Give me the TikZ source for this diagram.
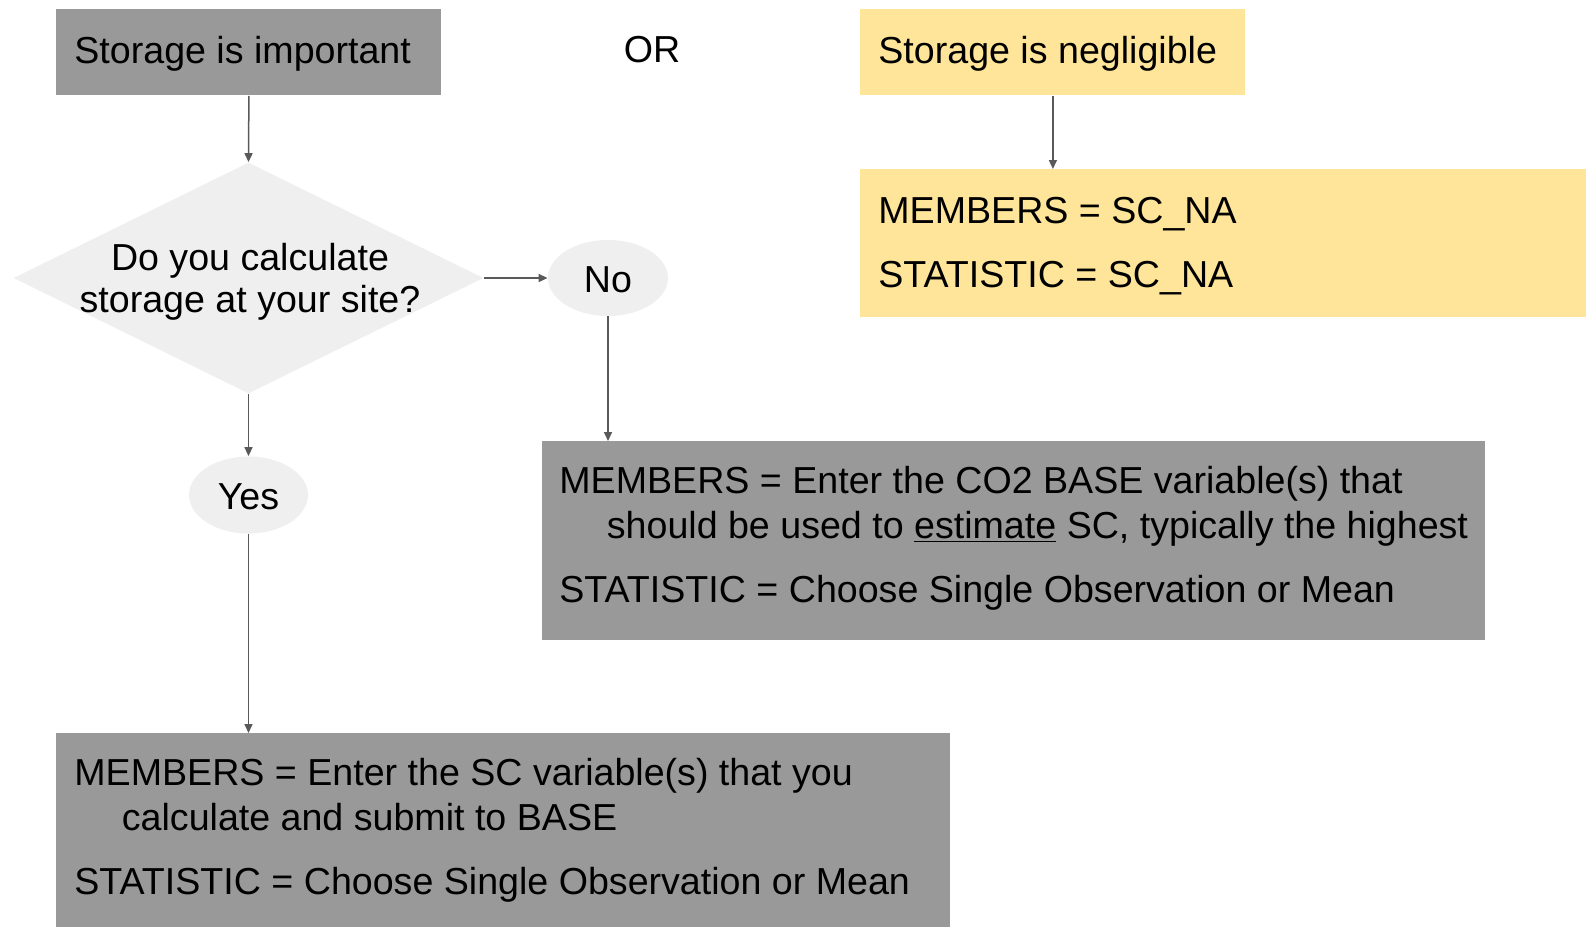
\documentclass[tikz,border=0pt]{standalone}
\usepackage{fontspec}
\setmainfont{Liberation Sans}
\usetikzlibrary{shapes.geometric,arrows.meta}
\definecolor{boxgray}{HTML}{999999}
\definecolor{boxyellow}{HTML}{FFE599}
\definecolor{lightfill}{HTML}{EFEFEF}
\definecolor{arrowgray}{HTML}{595959}
\begin{document}
\begin{tikzpicture}[x=0.5pt,y=-0.5pt,
  font=\fontsize{18.8pt}{21pt}\selectfont,
  graybox/.style={rectangle,fill=boxgray,draw=none,inner sep=0pt,anchor=north west},
  yellowbox/.style={rectangle,fill=boxyellow,draw=none,inner sep=0pt,anchor=north west},
  answer/.style={ellipse,fill=lightfill,draw=none,inner sep=0pt},
  txt/.style={inner sep=0pt,anchor=base west},
  ctxt/.style={inner sep=0pt,anchor=base},
  conn/.style={draw=arrowgray,line width=0.75pt,-{Triangle[length=4.5pt,width=4pt]}}]
\useasboundingbox (0,0) rectangle (1586,927);

% boxes
\node[graybox,minimum width=192.5pt,minimum height=43pt] (imp) at (56,9) {};
\node[yellowbox,minimum width=192.5pt,minimum height=43pt] (neg) at (860,9) {};
\node[yellowbox,minimum width=363pt,minimum height=74pt] (na) at (860,169) {};
\node[graybox,minimum width=471.5pt,minimum height=99.5pt] (nobox) at (542,441) {};
\node[graybox,minimum width=447pt,minimum height=97pt] (yesbox) at (56,733) {};
\node[diamond,fill=lightfill,draw=none,inner sep=0pt,minimum width=235pt,minimum height=115.5pt] (q) at (248.5,278) {};
\node[answer,minimum width=60pt,minimum height=38pt] (no) at (608,278) {};
\node[answer,minimum width=59.5pt,minimum height=38.5pt] (yes) at (248.5,495) {};

% texts
\node[txt] (impt) at (74,63) {Storage is important};
\node[ctxt] (or) at (652,62) {OR};
\node[txt] (negt) at (878,63) {Storage is negligible};
\node[txt] (nat1) at (878,223) {MEMBERS = SC\_NA};
\node[txt] (nat2) at (878,287) {STATISTIC = SC\_NA};
\node[ctxt] (qt1) at (250,270) {Do you calculate};
\node[ctxt] (qt2) at (250,312) {storage at your site?};
\node[ctxt] (not) at (608,292) {No};
\node[ctxt] (yest) at (248.5,509) {Yes};
\node[txt] (nb1) at (559,493) {MEMBERS = Enter the CO2 BASE variable(s) that};
\node[txt] (nb2) at (606.5,538) {should be used to \underline{estimate} SC, typically the highest};
\node[txt] (nb3) at (559,602) {STATISTIC = Choose Single Observation or Mean};
\node[txt] (yb1) at (74,785) {MEMBERS = Enter the SC variable(s) that you};
\node[txt] (yb2) at (121.5,830) {calculate and submit to BASE};
\node[txt] (yb3) at (74,894) {STATISTIC = Choose Single Observation or Mean};

% connectors
\draw[conn] (imp.south) -- (q.north);
\draw[conn] (q.east) -- (no.west);
\draw[conn] (no.south) -- (no.south |- nobox.north);
\draw[conn] (q.south) -- (yes.north);
\draw[conn] (yes.south) -- (yes.south |- yesbox.north);
\draw[conn] (neg.south) -- (neg.south |- na.north);
\end{tikzpicture}
\end{document}
